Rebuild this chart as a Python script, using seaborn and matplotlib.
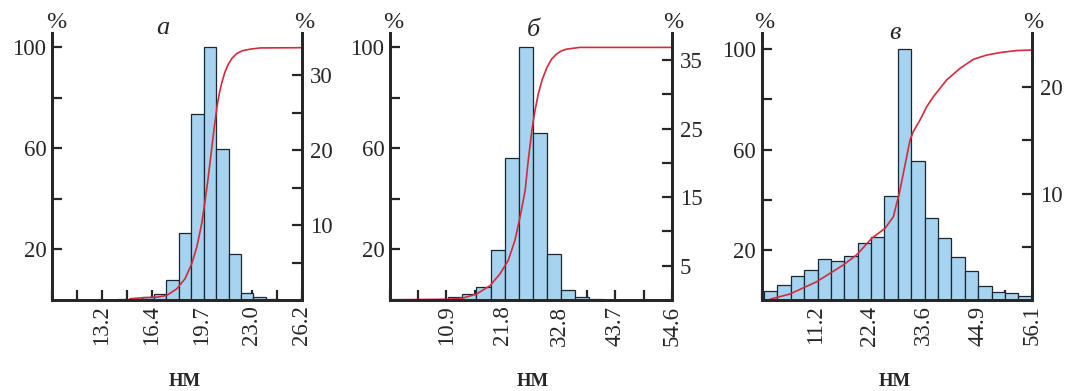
import numpy as np
import matplotlib
matplotlib.use("Agg")
import matplotlib.pyplot as plt
import seaborn as sns

# panel "а": bin centres (nm), relative bar heights (max = 100) and cumulative curve (%)
a_centers = [14.47, 15.28, 16.10, 16.91, 17.73, 18.54, 19.35, 20.17, 20.98, 21.80, 22.61, 23.42, 24.24]
a_heights = [0.3, 0.4, 1.2, 2.5, 7.8, 26.5, 73.5, 100, 59.5, 18.0, 2.8, 1.0, 0.4]
a_curve_x = [14.94, 15.81, 16.69, 17.34, 18.0, 18.54, 18.98, 19.31, 19.63, 19.85, 20.05, 20.25,
             20.45, 20.65, 20.8, 20.95, 21.15, 21.38, 21.6, 21.93, 22.3, 22.8, 23.46, 26.2]
a_curve_y = [0.5, 0.9, 1.1, 1.8, 4.4, 8.4, 14.3, 20.9, 30.1, 39.0, 48.0, 58.0,
             68.0, 77.0, 82.0, 85.9, 90.0, 93.2, 95.4, 97.4, 98.5, 99.1, 99.6, 99.7]
a_xlabels = ["13.2", "16.4", "19.7", "23.0", "26.2"]

# panel "б"
b_centers = [12.67, 15.40, 18.13, 20.86, 23.59, 26.32, 29.05, 31.78, 34.51, 37.24, 39.97]
b_heights = [1.0, 2.5, 5.3, 19.7, 56.3, 100, 66.2, 18.2, 4.1, 1.2, 0.5]
b_curve_x = [0.0, 11.6, 14.2, 16.8, 19.4, 21.3, 22.9, 24.2, 25.2, 26.2, 26.8, 27.5,
             28.1, 28.75, 29.5, 30.4, 31.3, 32.3, 33.2, 34.2, 36.8, 54.6]
b_curve_y = [0.1, 0.3, 0.8, 2.4, 5.7, 10.3, 15.6, 23.5, 32.8, 43.4, 55.3, 67.2,
             75.0, 81.7, 87.2, 92.0, 95.3, 97.4, 98.6, 99.3, 100, 100]
b_xlabels = ["10.9", "21.8", "32.8", "43.7", "54.6"]

# panel "в"
c_centers = [1.87, 4.65, 7.43, 10.21, 12.99, 15.78, 18.56, 21.34, 24.12, 26.90,
             29.68, 32.46, 35.24, 38.02, 40.80, 43.59, 46.37, 49.15, 51.93, 54.71]
c_heights = [3.7, 6.1, 9.7, 12.1, 16.5, 15.6, 17.6, 22.8, 25.1, 41.5,
             100, 55.3, 32.7, 24.7, 17.2, 11.7, 5.5, 3.3, 2.7, 1.7]
c_curve_x = [1.73, 5.89, 11.43, 16.97, 19.74, 22.86, 25.63, 27.36, 28.05, 28.53, 29.43,
             30.82, 31.51, 32.9, 34.28, 35.67, 38.44, 41.21, 43.98, 46.75, 49.52, 52.98, 56.1]
c_curve_y = [0.3, 2.4, 7.3, 14.0, 18.0, 24.6, 28.6, 33.2, 38.6, 41.9, 50.5,
             63.8, 67.2, 71.8, 77.1, 81.1, 87.8, 92.4, 96.0, 97.7, 98.7, 99.5, 99.7]
c_xlabels = ["11.2", "22.4", "33.6", "44.9", "56.1"]

BAR = "#a6d4f0"
EDGE = "#1c2633"
RED = "#d42a3a"

sns.set_style("ticks")
plt.rcParams["font.family"] = ["Liberation Serif", "DejaVu Serif"]
plt.rcParams["axes.linewidth"] = 2.0

W, H = 1069, 391
fig = plt.figure(figsize=(W / 100, H / 100), dpi=100)


def add_axes_px(left, right, top=33, bottom=300):
    return fig.add_axes([left / W, 1 - bottom / H, (right - left) / W, (bottom - top) / H])


def draw_panel(ax, centers, heights, cx, cy, xlim, xlabels, ytop, rtop, rticks, rlabels):
    w = centers[1] - centers[0]
    sns.histplot(x=centers, weights=heights, binwidth=w,
                 binrange=(centers[0] - w / 2, centers[-1] + w / 2),
                 color=BAR, edgecolor=EDGE, linewidth=0.9, alpha=1, ax=ax)
    sns.lineplot(x=cx, y=cy, color=RED, linewidth=1.2, ax=ax)
    ax.set_xlim(*xlim)
    ax.set_ylim(0, ytop)
    ax.set_xlabel("")
    ax.set_ylabel("")

    xt = np.linspace(xlim[0], xlim[1], 11)
    labs = [""] * 11
    for i, lab in enumerate(xlabels):
        labs[2 * i + 2] = lab
    ax.set_xticks(xt, labs)
    ax.set_yticks([20, 40, 60, 80, 100], ["20", "", "60", "", "100"])
    ax.tick_params(axis="x", direction="in", length=7, width=1.6, labelsize=16.5,
                   labelrotation=90, pad=4)
    ax.tick_params(axis="y", direction="in", length=7, width=1.6, labelsize=16.5, pad=4)

    ax2 = ax.twinx()
    ax2.set_ylim(0, rtop)
    ax2.set_yticks(rticks, rlabels)
    ax2.tick_params(axis="y", direction="in", length=7, width=1.6, labelsize=16.5, pad=6)
    for a in (ax, ax2):
        a.spines["top"].set_visible(False)
        for s in ("left", "right", "bottom"):
            a.spines[s].set_linewidth(2.0)
    return ax2


ax_a = add_axes_px(52, 302)
draw_panel(ax_a, a_centers, a_heights, a_curve_x, a_curve_y, (9.83, 26.2), a_xlabels,
           105.5, 35.67, [5, 10, 15, 20, 25, 30], ["", "10", "", "20", "", "30"])

ax_b = add_axes_px(390, 671.7)
draw_panel(ax_b, b_centers, b_heights, b_curve_x, b_curve_y, (0, 54.6), b_xlabels,
           105.7, 38.97, [5, 10, 15, 20, 25, 30, 35], ["5", "", "15", "", "25", "", "35"])

ax_c = add_axes_px(761.7, 1031.7)
draw_panel(ax_c, c_centers, c_heights, c_curve_x, c_curve_y, (0, 56.1), c_xlabels,
           106.5, 25.1, [5, 10, 15, 20], ["", "10", "", "20"])


def ftext(x, y, s, **kw):
    fig.text(x / W, 1 - y / H, s, **kw)


# percent signs over the y axes
for x in (56, 304, 393, 673, 764, 1033):
    ftext(x, 22, "%", ha="center", va="center", fontsize=17.5)

# panel letters
ftext(163, 33.5, "а", ha="center", va="baseline", fontsize=19, style="italic")
ftext(533, 36.5, "б", ha="center", va="baseline", fontsize=19, style="italic")
ftext(895, 39, "в", ha="center", va="baseline", fontsize=19, style="italic")

# units under each panel
for x in (185, 533, 895):
    ftext(x, 381, "НМ", ha="center", va="center", fontsize=13.5, fontweight="bold")

fig.savefig("out.png", dpi=100)
